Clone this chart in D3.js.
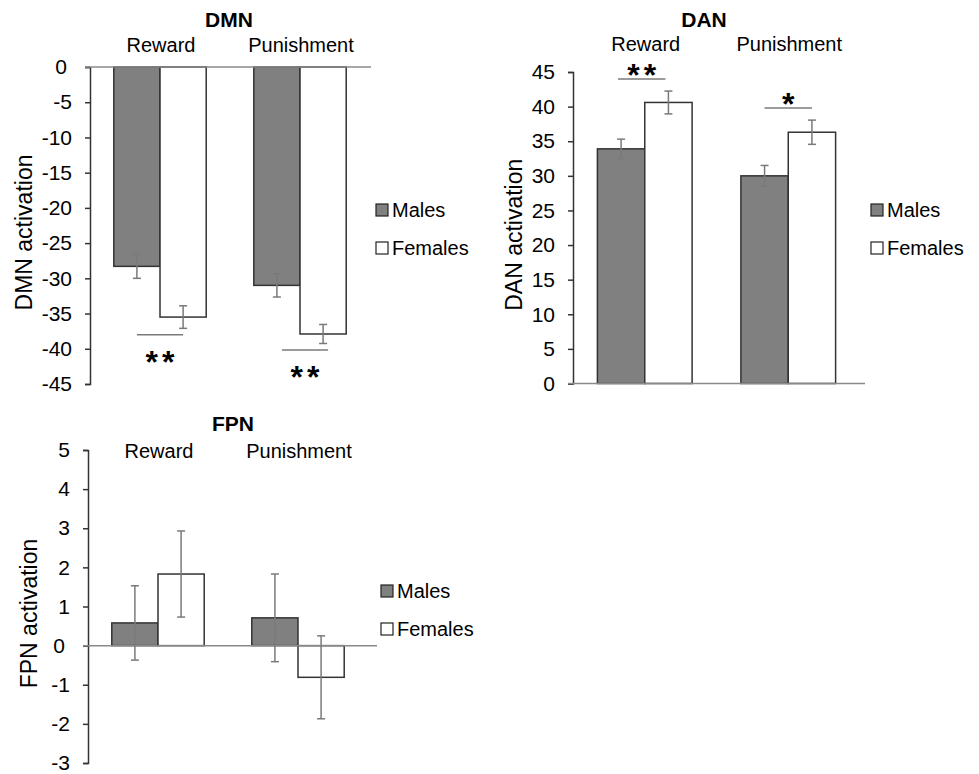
<!DOCTYPE html>
<html>
<head>
<meta charset="utf-8">
<script src="https://cdn.jsdelivr.net/npm/d3@7"></script>
<style>
  body { margin: 0; background: #fff; }
  text { font-family: "Liberation Sans", Arial, sans-serif; fill: #000; }
</style>
</head>
<body>
<div id="chart"></div>
<script>
// categories and series
const conditions = ["Reward", "Punishment"];
const groups = ["Males", "Females"];

// DMN
const dmnMales = [-28.3, -31.0];
const dmnFemales = [-35.5, -37.9];
const dmnMalesErr = [1.7, 1.65];
const dmnFemalesErr = [1.6, 1.35];
const dmnTicks = [0, -5, -10, -15, -20, -25, -30, -35, -40, -45];
const dmnSig = ["**", "**"];

// DAN
const danMales = [33.9, 30.0];
const danFemales = [40.6, 36.3];
const danMalesErr = [1.4, 1.5];
const danFemalesErr = [1.65, 1.75];
const danTicks = [0, 5, 10, 15, 20, 25, 30, 35, 40, 45];
const danSig = ["**", "*"];

// FPN
const fpnMales = [0.58, 0.71];
const fpnFemales = [1.83, -0.81];
const fpnMalesErr = [0.95, 1.12];
const fpnFemalesErr = [1.1, 1.06];
const fpnTicks = [5, 4, 3, 2, 1, 0, -1, -2, -3];

const fills = { Males: "#808080", Females: "#ffffff" };

let svg = d3.select('#chart')
    .append('svg')
    .attr('width', 979)
    .attr('height', 774);

function drawPanel(p) {
    let g = svg.append('g');

    let x0 = d3.scaleBand()
        .domain(conditions)
        .range([p.left, p.right])
        .paddingInner(0.34)
        .paddingOuter(0.17);
    let x1 = d3.scaleBand()
        .domain(groups)
        .range([0, x0.bandwidth()]);
    let y = d3.scaleLinear()
        .domain(p.domain)
        .range([p.top, p.bottom]);

    // rows: one per bar
    let rows = [];
    conditions.forEach((c, i) => {
        rows.push({ cond: c, grp: "Males", v: p.males[i], e: p.malesErr[i] });
        rows.push({ cond: c, grp: "Females", v: p.females[i], e: p.femalesErr[i] });
    });

    // y axis (plain hyphen for negatives, like the original)
    let axis = g.append('g')
        .attr('transform', `translate(${p.left},0)`)
        .call(d3.axisLeft(y).tickValues(p.ticks).tickSize(5).tickPadding(13).tickFormat(d => String(d)));
    axis.select('.domain').attr('stroke', '#333').attr('stroke-width', 1.5);
    axis.selectAll('.tick line').attr('stroke', '#333').attr('stroke-width', 1.5);
    axis.selectAll('.tick text')
        .style('font-size', '21px')
        .attr('fill', '#000')
        .attr('dx', d => (d === 0 && p.shiftZero) ? -5 : 0);

    // bars
    g.selectAll('rect.bar')
        .data(rows)
        .enter()
        .append('rect')
        .attr('class', 'bar')
        .attr('x', d => x0(d.cond) + x1(d.grp))
        .attr('width', x1.bandwidth())
        .attr('y', d => y(Math.max(0, d.v)))
        .attr('height', d => Math.abs(y(d.v) - y(0)))
        .attr('fill', d => fills[d.grp])
        .attr('stroke', '#333')
        .attr('stroke-width', 1.5);

    // zero line
    g.append('line')
        .attr('x1', p.left - 5).attr('x2', p.zeroEnd)
        .attr('y1', y(0)).attr('y2', y(0))
        .attr('stroke', '#8a8a8a')
        .attr('stroke-width', 1.5);

    // error bars
    let cx = d => x0(d.cond) + x1(d.grp) + x1.bandwidth() / 2;
    let eb = g.selectAll('g.err').data(rows).enter().append('g')
        .attr('stroke', '#7a7a7a').attr('stroke-width', 1.5);
    eb.append('line')
        .attr('x1', cx).attr('x2', cx)
        .attr('y1', d => y(d.v + d.e)).attr('y2', d => y(d.v - d.e));
    eb.append('line')
        .attr('x1', d => cx(d) - 4).attr('x2', d => cx(d) + 4)
        .attr('y1', d => y(d.v + d.e)).attr('y2', d => y(d.v + d.e));
    eb.append('line')
        .attr('x1', d => cx(d) - 4).attr('x2', d => cx(d) + 4)
        .attr('y1', d => y(d.v - d.e)).attr('y2', d => y(d.v - d.e));

    // significance markers
    if (p.sig) {
        conditions.forEach((c, i) => {
            let m = rows[i * 2], f = rows[i * 2 + 1];
            let xa = cx(m) + p.sigShift[i], xb = cx(f) + p.sigShift[i];
            let ly;
            if (p.sigBelow) {
                ly = y(Math.min(m.v - m.e, f.v - f.e)) + 6.5;
            } else {
                ly = y(Math.max(m.v + m.e, f.v + f.e)) - 12;
            }
            g.append('line')
                .attr('x1', xa).attr('x2', xb)
                .attr('y1', ly).attr('y2', ly)
                .attr('stroke', '#7a7a7a').attr('stroke-width', 1.5);
            g.append('text')
                .attr('x', (xa + xb) / 2 + 2)
                .attr('y', p.sigBelow ? ly + 38 : ly + 7)
                .attr('text-anchor', 'middle')
                .style('font-size', '32px')
                .style('font-weight', 'bold')
                .style('letter-spacing', '4px')
                .text(p.sig[i]);
        });
    }

    // title and category labels
    g.append('text')
        .attr('x', p.titleX).attr('y', p.titleY)
        .attr('text-anchor', 'middle')
        .style('font-size', '21px').style('font-weight', 'bold')
        .text(p.title);
    g.selectAll('text.cat').data(conditions).enter().append('text')
        .attr('class', 'cat')
        .attr('x', d => x0(d) + x0.bandwidth() / 2 + 1)
        .attr('y', p.catY)
        .attr('text-anchor', 'middle')
        .style('font-size', '20px')
        .text(d => d);

    // y label
    g.append('text')
        .attr('transform', `translate(${p.labelX},${(p.top + p.bottom) / 2 + 7}) rotate(-90)`)
        .attr('text-anchor', 'middle')
        .attr('dy', '0.35em')
        .style('font-size', '23px')
        .text(p.title + ' activation');

    // legend
    groups.forEach((grp, i) => {
        let ly = p.legendY + i * 38;
        g.append('rect')
            .attr('x', p.legendX).attr('y', ly - 6)
            .attr('width', 12).attr('height', 12)
            .attr('fill', fills[grp])
            .attr('stroke', '#222').attr('stroke-width', 1.2);
        g.append('text')
            .attr('x', p.legendX + 16).attr('y', ly)
            .attr('dy', '0.35em')
            .style('font-size', '20px')
            .text(grp);
    });
}

drawPanel({
    title: "DMN", males: dmnMales, females: dmnFemales,
    malesErr: dmnMalesErr, femalesErr: dmnFemalesErr,
    ticks: dmnTicks, domain: [0, -45], sig: dmnSig, sigBelow: true, sigShift: [0, 5],
    left: 90, right: 370, top: 67, bottom: 384, zeroEnd: 371,
    titleX: 229, titleY: 27, catY: 52, labelX: 24, shiftZero: true,
    legendX: 376, legendY: 210
});

drawPanel({
    title: "DAN", males: danMales, females: danFemales,
    malesErr: danMalesErr, femalesErr: danFemalesErr,
    ticks: danTicks, domain: [45, 0], sig: danSig, sigBelow: false, sigShift: [-3, 0],
    left: 573, right: 860, top: 72, bottom: 383.5, zeroEnd: 865,
    titleX: 704, titleY: 27, catY: 51, labelX: 514, shiftZero: false,
    legendX: 871, legendY: 210
});

drawPanel({
    title: "FPN", males: fpnMales, females: fpnFemales,
    malesErr: fpnMalesErr, femalesErr: fpnFemalesErr,
    ticks: fpnTicks, domain: [5, -3], sig: null,
    left: 88, right: 368, top: 450, bottom: 763, zeroEnd: 377,
    titleX: 233, titleY: 431, catY: 458, labelX: 29, shiftZero: true,
    legendX: 381, legendY: 591
});
</script>
</body>
</html>
